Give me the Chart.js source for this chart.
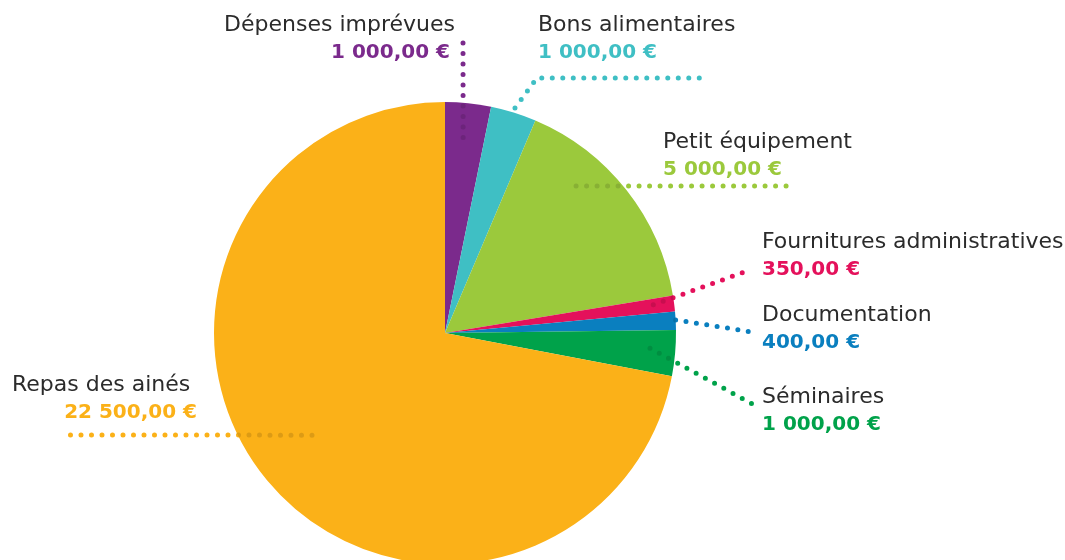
<!DOCTYPE html>
<html>
<head>
<meta charset="utf-8">
<script src="https://cdn.jsdelivr.net/npm/chart.js@4"></script>
<style>
  html, body { margin: 0; padding: 0; background: #fff; overflow: hidden; }
  #wrap { width: 1065px; height: 600px; }
</style>
</head>
<body>
<div id="wrap"><canvas id="chart-budget"></canvas></div>
<script>
const categories = ['Dépenses imprévues', 'Bons alimentaires', 'Petit équipement',
  'Fournitures administratives', 'Documentation', 'Séminaires', 'Repas des ainés'];
const amounts = [1000, 1000, 5000, 350, 400, 1000, 22500];
const colors = ['#7b2a8c', '#3fbfc4', '#9bc93c', '#e4115b', '#0a7fbf', '#00a24a', '#fbb118'];

// position des étiquettes + amorce des pointillés (t = position dans la part, rf = fraction du rayon)
const labelLayout = [
  { x: 455, y: 25, align: 'right', valueX: 450, t: 0.46, rf: 0.85, path: [[463, 35]] },
  { x: 538, y: 25, align: 'left', t: 0.5, rf: 1.02, path: [[537, 78], [700, 78]] },
  { x: 663, y: 142, align: 'left', t: 0.324, rf: 0.853, path: [[790, 186]] },
  { x: 762, y: 242, align: 'left', t: 0.41, rf: 0.91, path: [[750, 270]] },
  { x: 762, y: 315, align: 'left', t: 0.45, rf: 1.0, path: [[752, 332]] },
  { x: 762, y: 397, align: 'left', t: 0.43, rf: 0.89, path: [[758, 407]] },
  { x: 12, y: 385, align: 'left', valueX: 197, valueAlign: 'right', t: 0.508, rf: 0.726, path: [[60, 435]] }
];

function formatEuro(v) {
  return v.toFixed(2).replace('.', ',').replace(/\B(?=(\d{3})+(?!\d))/g, ' ') + ' €';
}

function dots(ctx, sx, sy, path, color) {
  ctx.strokeStyle = color;
  ctx.lineWidth = 5;
  ctx.lineCap = 'round';
  ctx.setLineDash([0, 10.5]);
  ctx.beginPath();
  ctx.moveTo(sx, sy);
  path.forEach(pt => ctx.lineTo(pt[0], pt[1]));
  ctx.stroke();
}

const leaderLabels = {
  id: 'leaderLabels',
  afterDatasetsDraw(chart) {
    const ctx = chart.ctx;
    const arcs = chart.getDatasetMeta(0).data;
    arcs.forEach((arc, i) => {
      const lay = labelLayout[i];
      const p = arc.getProps(['x', 'y', 'startAngle', 'endAngle', 'outerRadius'], true);
      const ang = p.startAngle + (p.endAngle - p.startAngle) * lay.t;
      const r = p.outerRadius * lay.rf;
      const sx = p.x + Math.cos(ang) * r;
      const sy = p.y + Math.sin(ang) * r;

      // pointillés, un peu plus sombres à l'intérieur du camembert
      ctx.save();
      dots(ctx, sx, sy, lay.path, colors[i]);
      ctx.beginPath();
      ctx.arc(p.x, p.y, p.outerRadius, 0, Math.PI * 2);
      ctx.clip();
      dots(ctx, sx, sy, lay.path, 'rgba(0,0,0,0.12)');
      ctx.restore();

      // textes
      ctx.save();
      ctx.textBaseline = 'middle';
      ctx.textAlign = lay.align;
      ctx.fillStyle = '#2b2b2b';
      ctx.font = '22px "DejaVu Sans"';
      ctx.fillText(categories[i], lay.x, lay.y);
      ctx.textAlign = lay.valueAlign || lay.align;
      ctx.fillStyle = colors[i];
      ctx.font = 'bold 20px "DejaVu Sans"';
      ctx.fillText(formatEuro(amounts[i]), lay.valueX || lay.x, lay.y + 28);
      ctx.restore();
    });
  }
};

const ctx = document.getElementById('chart-budget').getContext('2d');
new Chart(ctx, {
  type: 'pie',
  data: {
    labels: categories,
    datasets: [{
      data: amounts,
      backgroundColor: colors,
      borderWidth: 0
    }]
  },
  options: {
    responsive: true,
    maintainAspectRatio: false,
    animation: false,
    layout: { padding: { left: 214, right: 389, top: 102, bottom: 36 } },
    plugins: {
      legend: { display: false },
      tooltip: { enabled: false }
    }
  },
  plugins: [leaderLabels]
});
</script>
</body>
</html>
